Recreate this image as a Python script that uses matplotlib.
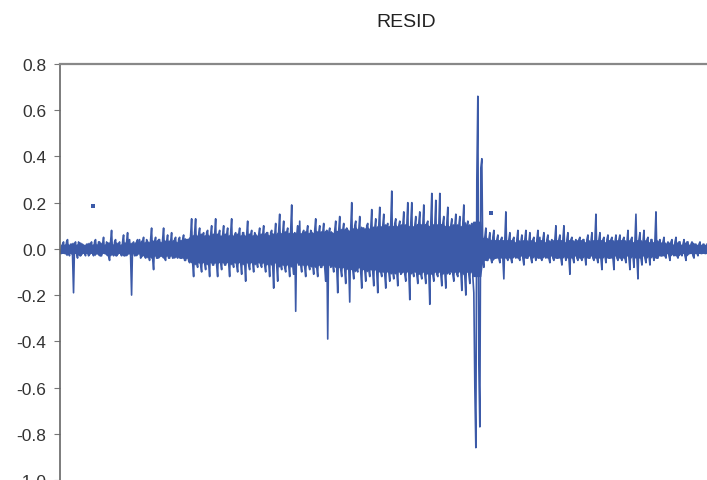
import numpy as np
import matplotlib
matplotlib.use('Agg')
import matplotlib.pyplot as plt

# 잔차(RESID) 값 - 그림에서 눈으로 읽은 값, 한 줄에 20개씩
# peak_* : 위/아래로 튀는 끝값,  core_* : 가운데 빽빽한 띠 값
peak_0 = [0.01, -0.02, 0.03, -0.01, 0.04, -0.03, 0.02, -0.19, 0.03, -0.04, 0.02, -0.02, 0.01, -0.03, 0.02, -0.02, 0.03, -0.03, 0.04, -0.02]
core_0 = [-0.02, 0.02, -0.02, 0.03, -0.02, 0.02, -0.03, 0.02, -0.02, 0.03, -0.03, 0.02, -0.02, 0.02, -0.03, 0.02, -0.02, 0.03, -0.02, 0.03]
peak_1 = [0.03, -0.03, 0.05, -0.02, 0.02, -0.05, 0.08, -0.03, 0.04, -0.02, 0.03, -0.03, 0.06, -0.02, 0.07, 0.04, -0.20, 0.03, -0.02, 0.04]
core_1 = [-0.03, 0.02, -0.02, 0.03, -0.03, 0.03, -0.02, 0.03, -0.03, 0.02, -0.02, 0.03, -0.03, 0.03, -0.02, -0.03, 0.02, -0.03, 0.03, -0.02]
peak_2 = [0.04, -0.03, 0.05, -0.04, 0.03, -0.05, 0.09, -0.09, 0.05, -0.04, 0.04, -0.03, 0.09, -0.05, 0.06, -0.04, 0.07, -0.03, 0.05, -0.04]
core_2 = [-0.04, 0.03, -0.03, 0.04, -0.03, 0.04, -0.04, 0.03, -0.04, 0.04, -0.03, 0.04, -0.04, 0.03, -0.04, 0.03, -0.04, 0.04, -0.03, 0.04]
peak_3 = [0.05, -0.04, 0.06, -0.05, 0.04, -0.06, 0.13, -0.12, 0.13, -0.08, 0.09, -0.10, 0.07, -0.09, 0.08, -0.12, 0.10, -0.07, 0.13, -0.12]
core_3 = [-0.04, 0.04, -0.05, 0.04, -0.05, 0.06, -0.06, 0.07, -0.06, 0.06, -0.07, 0.06, -0.06, 0.07, -0.06, 0.06, -0.07, 0.06, -0.07, 0.06]
peak_4 = [0.08, -0.09, 0.10, -0.07, 0.09, -0.12, 0.13, -0.08, 0.07, -0.10, 0.09, -0.11, 0.07, -0.14, 0.12, -0.09, 0.08, -0.10, 0.06, -0.08]
core_4 = [-0.06, 0.06, -0.07, 0.06, -0.06, 0.07, -0.06, 0.06, -0.07, 0.06, -0.06, 0.07, -0.06, 0.06, -0.07, 0.06, -0.06, 0.07, -0.06, 0.06]
peak_5 = [0.09, -0.08, 0.10, -0.10, 0.07, -0.12, 0.08, -0.17, 0.11, -0.14, 0.15, -0.09, 0.12, -0.10, 0.09, -0.12, 0.19, -0.11, -0.27, 0.10]
core_5 = [-0.07, 0.06, -0.07, 0.07, -0.06, 0.07, -0.07, 0.06, -0.07, 0.08, -0.07, 0.07, -0.08, 0.07, -0.07, 0.08, -0.07, 0.07, 0.06, -0.07]
peak_6 = [0.12, -0.10, 0.08, -0.12, 0.10, -0.09, 0.07, -0.11, 0.13, -0.12, 0.10, -0.08, 0.11, -0.14, -0.39, 0.09, 0.07, -0.10, 0.12, -0.19]
core_6 = [-0.07, 0.07, -0.08, 0.07, -0.07, 0.08, -0.07, 0.08, -0.08, 0.07, -0.08, 0.07, -0.08, 0.08, 0.07, -0.08, -0.07, 0.08, -0.08, 0.08]
peak_7 = [0.14, -0.12, 0.11, -0.15, 0.08, -0.23, 0.20, -0.13, 0.12, -0.10, 0.14, -0.17, 0.09, -0.14, 0.11, -0.12, 0.17, -0.16, 0.13, -0.19]
core_7 = [-0.09, 0.08, -0.09, 0.09, -0.08, 0.09, -0.09, 0.10, -0.09, 0.08, -0.10, 0.09, -0.09, 0.10, -0.09, 0.09, -0.10, 0.09, -0.10, 0.10]
peak_8 = [0.18, -0.12, 0.15, -0.17, 0.11, -0.14, 0.25, -0.13, 0.13, -0.16, 0.12, -0.10, 0.16, -0.14, 0.20, -0.22, 0.20, -0.12, 0.14, -0.15]
core_8 = [-0.10, 0.10, -0.11, 0.10, -0.10, 0.11, -0.10, 0.11, -0.10, 0.10, -0.11, 0.10, -0.11, 0.10, -0.10, 0.11, -0.10, 0.10, -0.11, 0.11]
peak_9 = [0.16, -0.13, 0.19, -0.15, 0.12, -0.24, 0.24, -0.14, 0.21, -0.12, 0.24, -0.16, 0.14, -0.17, 0.18, -0.11, 0.13, -0.14, 0.15, -0.12]
core_9 = [-0.11, 0.10, -0.11, 0.11, -0.10, 0.11, -0.11, 0.10, -0.11, 0.10, -0.11, 0.11, -0.10, 0.11, -0.10, 0.10, -0.11, 0.10, -0.11, 0.10]
peak_10 = [0.14, -0.18, 0.19, -0.20, 0.12, -0.15, 0.11, -0.19, -0.86, 0.66, -0.77, 0.39, -0.08, 0.09, -0.05, 0.07, -0.06, 0.08, -0.04, 0.06]
core_10 = [-0.10, 0.11, -0.12, 0.10, -0.11, 0.10, -0.12, -0.60, 0.30, -0.50, 0.35, -0.05, 0.05, -0.05, 0.04, -0.04, 0.05, -0.04, 0.04, -0.04]
peak_11 = [-0.06, 0.05, -0.13, 0.16, -0.05, 0.07, -0.06, 0.05, -0.04, 0.08, -0.05, 0.06, -0.07, 0.08, -0.04, 0.07, -0.06, 0.05, -0.05, 0.08]
core_11 = [0.04, -0.04, 0.04, -0.04, 0.04, -0.04, 0.04, -0.03, 0.04, -0.04, 0.03, -0.04, 0.04, -0.04, 0.03, -0.04, 0.04, -0.03, 0.04, -0.04]
peak_12 = [0.05, -0.05, 0.07, -0.04, 0.06, -0.06, 0.04, -0.05, 0.10, -0.04, 0.06, -0.07, 0.10, -0.05, 0.07, -0.11, 0.05, -0.06, 0.04, -0.05]
core_12 = [-0.04, 0.04, -0.03, 0.04, -0.04, 0.03, -0.04, 0.04, -0.04, 0.04, -0.04, 0.04, -0.03, 0.04, -0.04, 0.04, -0.04, 0.03, -0.04, 0.04]
peak_13 = [0.05, -0.05, 0.04, -0.07, 0.06, -0.04, 0.07, -0.05, 0.15, -0.06, 0.07, -0.09, 0.05, -0.06, 0.06, -0.04, 0.05, -0.09, 0.06, -0.05]
core_13 = [-0.04, 0.04, -0.03, 0.04, -0.04, 0.03, -0.04, 0.04, -0.04, 0.04, -0.04, 0.04, -0.03, 0.04, -0.04, 0.04, -0.04, 0.03, -0.04, 0.04]
peak_14 = [0.06, -0.05, 0.05, -0.06, 0.08, -0.09, 0.05, -0.08, 0.15, -0.13, 0.07, -0.07, 0.08, -0.06, 0.05, -0.07, 0.04, -0.05, 0.16, -0.04]
core_14 = [-0.04, 0.04, -0.04, 0.03, -0.04, 0.04, -0.03, 0.04, -0.04, 0.04, -0.04, 0.03, -0.04, 0.04, -0.03, 0.04, -0.03, 0.04, -0.04, 0.03]
peak_15 = [0.04, -0.03, 0.05, -0.04, 0.03, -0.05, 0.04, -0.03, 0.05, -0.04, 0.03, -0.03, 0.04, -0.05, 0.03, -0.02, 0.03, -0.04, 0.02, -0.03, 0.03, -0.02, 0.02, -0.02]
core_15 = [-0.03, 0.03, -0.03, 0.02, -0.03, 0.03, -0.02, 0.03, -0.03, 0.03, -0.02, 0.02, -0.03, 0.03, -0.02, 0.02, -0.03, 0.02, -0.02, 0.02, -0.02, 0.02, -0.02, 0.02]

# 선과 떨어져 있는 점 두개
dot_idx = [33, 431.5]
dot_val = [0.187, 0.155]

ytick_vals = [-1.0, -0.8, -0.6, -0.4, -0.2, 0.0, 0.2, 0.4, 0.6, 0.8]
ytick_labels = ['-1.0', '-0.8', '-0.6', '-0.4', '-0.2', '0.0', '0.2', '0.4', '0.6', '0.8']

peaks = [peak_0, peak_1, peak_2, peak_3, peak_4, peak_5, peak_6, peak_7,
         peak_8, peak_9, peak_10, peak_11, peak_12, peak_13, peak_14, peak_15]
cores = [core_0, core_1, core_2, core_3, core_4, core_5, core_6, core_7,
         core_8, core_9, core_10, core_11, core_12, core_13, core_14, core_15]

# peak, core 순서로 번갈아 이어붙이기
resid = []
for p, c in zip(peaks, cores):
    for a, b in zip(p, c):
        resid.append(a)
        resid.append(b)
resid = np.array(resid)
idx = np.arange(len(resid))

# 가운데 띠(core)는 꽉 차 보이게 따로 채움
core_all = np.array(sum(cores, []))
core_x = idx[1::2]
core_w = np.minimum(np.abs(core_all), 0.12)

plt.rcParams['font.family'] = ['Liberation Sans', 'DejaVu Sans']

fig = plt.figure(figsize=(7.07, 4.81), dpi=100)
# 원본 그림이 오른쪽/아래가 잘려 있어서 축도 가장자리까지
ax = fig.add_axes([0.0842, 0.0, 1 - 0.0842, 0.865])

col = '#3C5AA8'
ax.fill_between(core_x, -core_w, core_w, color=col, lw=0)
ax.plot(idx, resid, color=col, lw=1.2)
ax.plot(dot_idx, dot_val, 's', color=col, ms=2.2, mew=0)

ax.set_xlim(0, 647)
ax.set_ylim(-1.0, 0.8)
ax.set_yticks(ytick_vals)
ax.set_yticklabels(ytick_labels)
ax.set_xticks([])
ax.tick_params(axis='y', length=4.5, width=0.8, color='#777777', pad=5,
               labelsize=12.5, labelcolor='#333333')

ax.spines['right'].set_visible(False)
ax.spines['bottom'].set_visible(False)
ax.spines['left'].set_color('#666666')
ax.spines['left'].set_linewidth(1.2)
ax.spines['top'].set_color('#888888')
ax.spines['top'].set_linewidth(1.6)

fig.text(0.574, 0.954, 'RESID', ha='center', va='center', fontsize=14, color='#222222')

fig.savefig('out.png', dpi=100)
